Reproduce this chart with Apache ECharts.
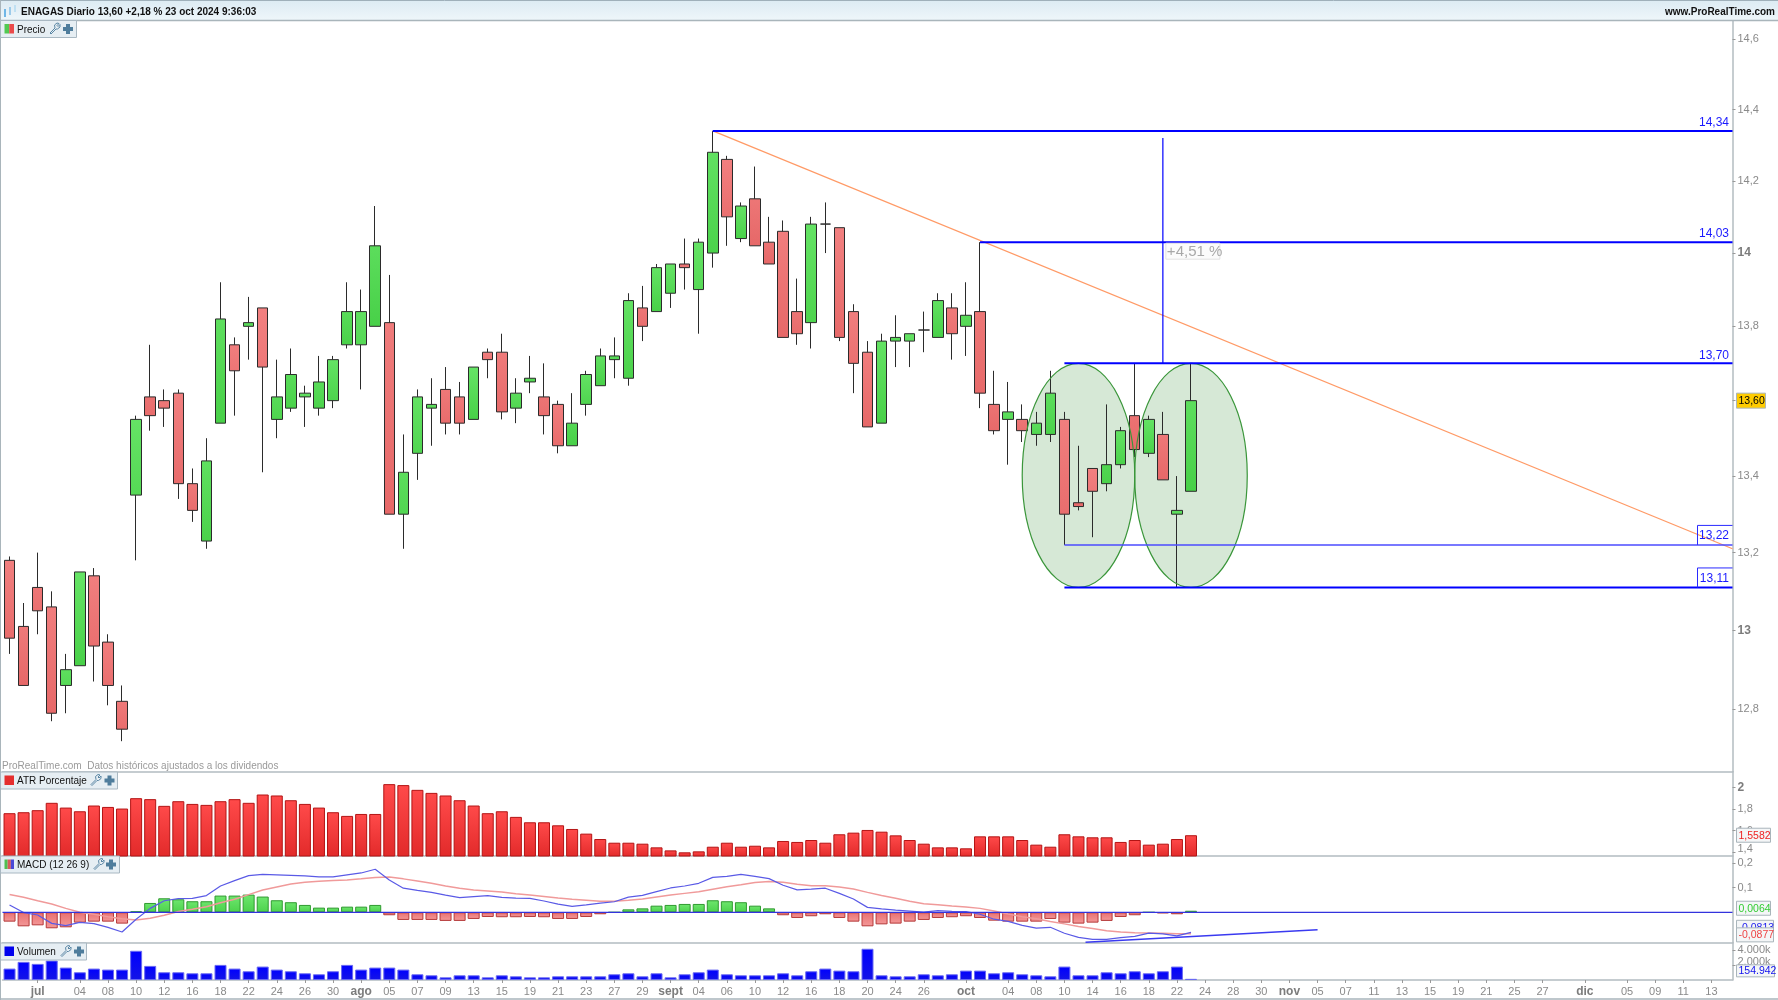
<!DOCTYPE html>
<html>
<head>
<meta charset="utf-8">
<title>ENAGAS Diario</title>
<script src="https://cdn.jsdelivr.net/npm/echarts@6/dist/echarts.min.js"></script>
<style>
  html, body { margin: 0; padding: 0; background: #fff; }
  #chart { width: 1778px; height: 1000px; }
</style>
</head>
<body>
<div id="chart"></div>
<script>
// velas diarias, una entrada por barra
const opens = [13.18,13.01,13.11,13.06,12.86,12.91,13.14,12.97,12.82,13.35,13.61,13.60,13.62,13.38,13.23,13.54,13.75,13.80,13.85,13.55,13.58,13.61,13.58,13.60,13.75,13.75,13.80,13.81,13.30,13.46,13.58,13.63,13.61,13.55,13.73,13.73,13.58,13.65,13.61,13.59,13.48,13.59,13.64,13.71,13.66,13.85,13.84,13.89,13.97,13.90,14.00,14.26,14.04,14.15,14.03,14.06,13.84,13.81,14.08,14.07,13.84,13.73,13.54,13.76,13.76,13.79,13.77,13.85,13.80,13.84,13.59,13.55,13.55,13.51,13.51,13.55,13.33,13.42,13.38,13.43,13.56,13.46,13.51,13.30,13.36];
const closes = [12.98,12.86,13.05,12.79,12.90,13.15,12.96,12.86,12.75,13.55,13.56,13.58,13.38,13.31,13.44,13.82,13.68,13.81,13.69,13.61,13.67,13.62,13.65,13.71,13.84,13.84,14.02,13.30,13.41,13.61,13.59,13.54,13.54,13.69,13.71,13.57,13.62,13.66,13.56,13.48,13.54,13.67,13.72,13.72,13.87,13.80,13.96,13.97,13.96,14.03,14.28,14.10,14.13,14.02,13.97,13.77,13.78,14.08,14.08,13.77,13.70,13.53,13.76,13.77,13.78,13.79,13.87,13.78,13.83,13.62,13.52,13.57,13.52,13.54,13.62,13.30,13.32,13.36,13.43,13.52,13.47,13.55,13.39,13.31,13.60];
const lows = [12.94,12.86,12.99,12.77,12.79,12.91,12.87,12.81,12.72,13.18,13.52,13.53,13.34,13.28,13.21,13.54,13.56,13.71,13.41,13.50,13.57,13.53,13.56,13.58,13.74,13.63,13.80,13.30,13.21,13.39,13.48,13.51,13.51,13.55,13.66,13.55,13.54,13.62,13.51,13.46,13.48,13.56,13.64,13.66,13.64,13.76,13.84,13.85,13.90,13.78,13.96,14.02,14.03,14.02,13.97,13.77,13.75,13.74,14.00,13.76,13.62,13.53,13.54,13.69,13.69,13.73,13.77,13.71,13.72,13.58,13.51,13.43,13.49,13.48,13.49,13.22,13.31,13.24,13.36,13.42,13.45,13.45,13.39,13.11,13.36];
const highs = [13.19,13.07,13.20,13.10,12.94,13.15,13.16,12.99,12.86,13.56,13.75,13.63,13.63,13.42,13.50,13.92,13.77,13.88,13.85,13.71,13.74,13.64,13.72,13.72,13.92,13.90,14.13,13.94,13.51,13.63,13.66,13.69,13.65,13.69,13.74,13.78,13.66,13.72,13.70,13.60,13.62,13.68,13.74,13.77,13.89,13.91,13.97,13.97,14.04,14.04,14.34,14.27,14.14,14.24,14.10,14.09,13.93,14.10,14.14,14.07,13.86,13.76,13.78,13.83,13.78,13.84,13.89,13.89,13.92,14.03,13.68,13.65,13.59,13.57,13.68,13.57,13.48,13.42,13.59,13.53,13.70,13.56,13.57,13.40,13.70];

const atrValues = [1.762,1.771,1.790,1.858,1.814,1.780,1.833,1.820,1.805,1.901,1.892,1.830,1.873,1.848,1.839,1.873,1.892,1.858,1.935,1.926,1.882,1.848,1.814,1.771,1.737,1.755,1.755,2.031,2.022,1.978,1.950,1.926,1.882,1.833,1.762,1.780,1.728,1.678,1.678,1.650,1.616,1.573,1.523,1.489,1.489,1.480,1.446,1.418,1.400,1.409,1.452,1.489,1.452,1.461,1.446,1.505,1.496,1.514,1.489,1.567,1.582,1.607,1.591,1.557,1.514,1.480,1.446,1.446,1.437,1.548,1.548,1.548,1.514,1.471,1.452,1.567,1.548,1.539,1.539,1.496,1.514,1.471,1.480,1.523,1.5582];

const macdHist = [-.038,-.057,-.053,-.065,-.061,-.042,-.038,-.038,-.046,.004,.038,.057,.053,.045,.045,.068,.068,.072,.064,.049,.041,.030,.019,.019,.023,.023,.030,-.012,-.031,-.031,-.031,-.035,-.035,-.027,-.019,-.020,-.020,-.019,-.020,-.027,-.027,-.019,-.008,0,.012,.016,.027,.030,.034,.034,.049,.045,.041,.027,.016,-.012,-.023,-.016,-.008,-.023,-.038,-.057,-.049,-.046,-.038,-.031,-.023,-.020,-.016,-.023,-.034,-.038,-.038,-.038,-.027,-.042,-.046,-.042,-.035,-.019,-.012,0,-.004,-.008,.0064];
const macdLine = [.030,-.001,-.011,-.045,-.054,-.041,-.046,-.061,-.080,-.028,.016,.047,.056,.057,.068,.107,.129,.149,.154,.152,.150,.148,.144,.144,.152,.160,.175,.131,.098,.089,.081,.070,.060,.064,.068,.061,.058,.057,.046,.033,.024,.030,.037,.043,.062,.069,.084,.099,.107,.118,.142,.146,.154,.146,.137,.110,.091,.094,.098,.077,.054,.020,.014,.009,.005,.001,.007,.004,.003,-.008,-.028,-.037,-.053,-.064,-.061,-.085,-.102,-.110,-.110,-.103,-.098,-.085,-.088,-.096,-.0813];
const macdSignal = [.072,.061,.047,.034,.016,0,-.008,-.018,-.026,-.031,-.024,-.012,.003,.012,.023,.039,.053,.072,.091,.103,.115,.122,.126,.129,.131,.136,.142,.144,.136,.127,.118,.107,.098,.091,.087,.083,.075,.070,.064,.058,.053,.049,.045,.045,.049,.054,.062,.070,.077,.084,.094,.104,.112,.121,.125,.122,.114,.108,.108,.103,.095,.081,.068,.057,.045,.035,.031,.026,.022,.016,.005,-.007,-.018,-.026,-.037,-.047,-.058,-.066,-.075,-.080,-.083,-.084,-.085,-.087,-.0877];

const volumes = [1530,2430,2160,2610,1665,1035,1530,1395,1395,3915,1890,1035,1035,900,900,2025,1530,1170,1800,1395,1170,900,765,1170,2025,1395,1665,1665,1395,765,630,360,630,630,360,630,495,360,360,495,495,495,495,765,900,495,900,360,765,1035,1395,765,630,630,630,900,630,1170,1530,1260,1170,4185,630,495,495,765,630,765,1260,1260,900,1035,765,630,495,1800,630,630,1035,900,1170,900,1170,1800,155];

// etiquetas del eje de tiempo por posicion de barra, '' = sin etiqueta
const dayLabels = new Array(123).fill('');
const tickEntries = [[2,'jul'],[5,'04'],[7,'08'],[9,'10'],[11,'12'],[13,'16'],[15,'18'],[17,'22'],[19,'24'],[21,'26'],[23,'30'],[25,'ago'],[27,'05'],[29,'07'],[31,'09'],[33,'13'],[35,'15'],[37,'19'],[39,'21'],[41,'23'],[43,'27'],[45,'29'],[47,'sept'],[49,'04'],[51,'06'],[53,'10'],[55,'12'],[57,'16'],[59,'18'],[61,'20'],[63,'24'],[65,'26'],[68,'oct'],[71,'04'],[73,'08'],[75,'10'],[77,'14'],[79,'16'],[81,'18'],[83,'22'],[85,'24'],[87,'28'],[89,'30'],[91,'nov'],[93,'05'],[95,'07'],[97,'11'],[99,'13'],[101,'15'],[103,'19'],[105,'21'],[107,'25'],[109,'27'],[112,'dic'],[115,'05'],[117,'09'],[119,'11'],[121,'13']];
tickEntries.forEach(([i, t]) => { dayLabels[i] = t; });
const monthNames = ['jul', 'ago', 'sept', 'oct', 'nov', 'dic'];

const priceTicks = [12.8, 13, 13.2, 13.4, 13.6, 13.8, 14, 14.2, 14.4, 14.6];
const atrTicks = [1.4, 1.6, 1.8, 2];
const macdTicks = [0.1, 0.2];
const volumeTicks = [2000, 4000];

// niveles dibujados a mano sobre el precio
const levelStarts = [50, 69, 75, 75, 75];
const levelPrices = [14.34, 14.03, 13.70, 13.22, 13.11];
const levelTexts = ['14,34', '14,03', '13,70', '13,22', '13,11'];
const trendFrom = [50, 14.34];
const trendTo = [122.5, 13.21];
const rangeLine = [82, 14.32, 13.70];
const rangeText = '+4,51 %';
const ellipseIdx = [[72, 80], [80, 88]];
const ellipsePrices = [13.70, 13.11];
const macdTrendFrom = [76.5, -0.122];
const macdTrendTo = [93, -0.0705];

const lastPrice = 13.60;
const lastAtr = 1.5582;
const lastHist = 0.0064;
const lastMacd = -0.0813;
const lastSignal = -0.0877;
const lastVolume = 154.942;

const GREY = '#8a8a8a';
const AXIS = '#b3bcc1';
const FONT = 'Liberation Sans, Arial, sans-serif';
const categories = dayLabels.map((_, i) => String(i));
const gridLeft = 2.5, gridWidth = 1730;

const comma = (v) => String(v).replace('.', ',');
const vGrad = (top, bottom) => ({ type: 'linear', x: 0, y: 0, x2: 0, y2: 1, colorStops: [{ offset: 0, color: top }, { offset: 1, color: bottom }] });

const chart = echarts.init(document.getElementById('chart'));

const paneGrid = (top, bottom) => ({ left: gridLeft, width: gridWidth, top, height: bottom - top, containLabel: false });
const catAxis = (gridIndex, withLabels) => ({
  type: 'category', gridIndex, data: categories, boundaryGap: true,
  axisLine: { onZero: false, lineStyle: { color: AXIS, width: 1.5 } },
  axisTick: withLabels
    ? { show: true, alignWithLabel: true, length: 3, interval: (i) => dayLabels[i] !== '', lineStyle: { color: '#999' } }
    : { show: false },
  axisLabel: withLabels
    ? {
        show: true, interval: (i) => dayLabels[i] !== '', margin: 6, fontFamily: FONT, fontSize: 11, color: GREY,
        formatter: (v) => {
          const t = dayLabels[+v];
          return monthNames.includes(t) ? '{m|' + t + '}' : t;
        },
        rich: { m: { fontWeight: 'bold', fontSize: 12, color: '#7c7c7c', fontFamily: FONT } }
      }
    : { show: false },
  splitLine: { show: false }
});
const idxAxis = (gridIndex) => ({ type: 'value', gridIndex, min: -0.5, max: 122.5, show: false, splitLine: { show: false } });
const valAxis = (gridIndex, extra, fmt) => Object.assign({
  gridIndex, position: 'right', splitLine: { show: false },
  axisLine: { show: true, onZero: false, lineStyle: { color: AXIS, width: 1.5 } },
  axisTick: { show: true, length: 3, lineStyle: { color: '#999' } },
  axisLabel: {
    show: true, margin: 5, fontFamily: FONT, fontSize: 11, color: GREY, formatter: fmt,
    rich: {
      b: { fontWeight: 'bold', fontSize: 12, color: '#7c7c7c', fontFamily: FONT },
      u: { fontSize: 11, color: GREY, fontFamily: FONT, padding: [0, 0, 7, 0] }
    }
  }
}, extra);

const withCustom = (axis, ticks) => {
  axis.axisLabel.customValues = ticks;
  axis.axisTick.customValues = ticks;
  return axis;
};

// caja con el ultimo valor a la derecha del eje
const valueTag = (xAxisIndex, yAxisIndex, value, text, color, opts) => ({
  type: 'custom', xAxisIndex, yAxisIndex, z: opts.z || 20, clip: false, silent: true,
  data: [[0, value]],
  renderItem: (params, api) => {
    const y = api.coord([0, value])[1] + (opts.dy || 0);
    const h = opts.h || 14;
    return {
      type: 'group',
      children: [
        { type: 'rect', shape: { x: 1736.5, y: y - h / 2, width: opts.w, height: h }, style: { fill: opts.bg || '#f4f6f7', stroke: '#a9b5bb', lineWidth: 1 } },
        { type: 'text', style: { x: 1738.5, y: y + 0.5, text, fill: color, font: '10.5px ' + FONT, textVerticalAlign: 'middle' } }
      ]
    };
  }
});

const levelWidths = [2, 2, 2, 1.5, 2];
const levelsSeries = {
  type: 'custom', xAxisIndex: 1, yAxisIndex: 0, z: 6, clip: false, silent: true,
  encode: { x: 0, y: 1 },
  data: levelPrices.map((p, i) => [levelStarts[i], p, i]),
  renderItem: (params, api) => {
    const i = api.value(2);
    const a = api.coord([api.value(0), api.value(1)]);
    const b = api.coord([122.5, api.value(1)]);
    const faded = i === 3;
    const children = [{
      type: 'line', shape: { x1: a[0], y1: a[1], x2: b[0], y2: b[1] },
      style: { stroke: faded ? '#4b4bff' : '#0000ff', lineWidth: levelWidths[i] }
    }];
    if (i >= 3) {
      children.push({
        type: 'polyline', shape: { points: [[b[0] - 35, b[1]], [b[0] - 35, b[1] - 19.5], [b[0], b[1] - 19.5]] },
        style: { stroke: '#2a2aff', lineWidth: 1, fill: 'none' }
      });
    }
    children.push({
      type: 'text',
      style: {
        x: b[0] - 3.5, y: b[1] - (i >= 3 ? 9 : 8), text: levelTexts[i], fill: '#1a1aff',
        font: '12px ' + FONT, textAlign: 'right', textVerticalAlign: 'middle'
      }
    });
    return { type: 'group', children };
  }
};

const trendSeries = {
  type: 'line', xAxisIndex: 1, yAxisIndex: 0, z: 5, silent: true, symbol: 'none',
  data: [trendFrom, trendTo],
  lineStyle: { color: '#ff9a66', width: 1.2 }
};

const rangeSeries = {
  type: 'custom', xAxisIndex: 1, yAxisIndex: 0, z: 6, clip: false, silent: true,
  data: [rangeLine],
  encode: { x: 0, y: [1, 2] },
  renderItem: (params, api) => {
    const a = api.coord([api.value(0), api.value(1)]);
    const b = api.coord([api.value(0), api.value(2)]);
    const t = api.coord([api.value(0), levelPrices[1]]);
    return {
      type: 'group',
      children: [
        { type: 'line', shape: { x1: a[0], y1: a[1], x2: b[0], y2: b[1] }, style: { stroke: '#0000ff', lineWidth: 1.2 } },
        { type: 'rect', shape: { x: t[0] + 3, y: t[1] + 1, width: 54, height: 16 }, style: { fill: 'rgba(250,250,250,0.8)', stroke: '#e2e2e2', lineWidth: 1 } },
        { type: 'text', style: { x: t[0] + 4, y: t[1] + 9.5, text: rangeText, fill: '#a8a8a8', font: '15px ' + FONT, textVerticalAlign: 'middle' } }
      ]
    };
  }
};

// relleno debajo de las velas, trazo por encima
const ellipseSeries = (z, style) => ({
  type: 'custom', xAxisIndex: 1, yAxisIndex: 0, z, clip: false, silent: true,
  data: ellipseIdx.map((r) => [r[0], r[1], ellipsePrices[0], ellipsePrices[1]]),
  encode: { x: [0, 1], y: [2, 3] },
  renderItem: (params, api) => {
    const a = api.coord([api.value(0), api.value(2)]);
    const b = api.coord([api.value(1), api.value(3)]);
    return {
      type: 'ellipse',
      shape: { cx: (a[0] + b[0]) / 2, cy: (a[1] + b[1]) / 2, rx: (b[0] - a[0]) / 2, ry: (b[1] - a[1]) / 2 },
      style
    };
  }
});

const histData = macdHist.map((v) => ({
  value: v,
  itemStyle: v >= 0
    ? { color: vGrad('#6ee66e', '#4cd24c'), borderColor: '#2f9a2f', borderWidth: 1 }
    : { color: vGrad('#e97070', '#f39898'), borderColor: '#b53a3a', borderWidth: 1 }
}));

const wrenchPoints = (x, y) => [[x + 1, y + 10], [x + 6, y + 5], [x + 5.5, y + 2], [x + 8, y], [x + 10, y + 0.5], [x + 8, y + 2.5], [x + 9, y + 3.5], [x + 11, y + 1.5], [x + 11, y + 4], [x + 8.5, y + 6], [x + 7, y + 6], [x + 2, y + 11]];
const plusPoints = (x, y) => [[x + 3, y], [x + 7, y], [x + 7, y + 3], [x + 10, y + 3], [x + 10, y + 7], [x + 7, y + 7], [x + 7, y + 10], [x + 3, y + 10], [x + 3, y + 7], [x, y + 7], [x, y + 3], [x + 3, y + 3]];

// etiqueta de panel con muestra de color, llave y cruz
const panelTag = (top, w, label, swatches, wrenchX, plusX) => {
  const sw = 9.5 / swatches.length;
  return [
    { type: 'rect', z: 30, shape: { x: 0.5, y: top + 0.5, width: w, height: 17 }, style: { fill: '#e6eef3', stroke: '#a9b8c2', lineWidth: 1 } },
    ...swatches.map((c, i) => ({ type: 'rect', z: 31, shape: { x: 4.5 + i * sw, y: top + 4, width: sw, height: 9.5 }, style: { fill: c } })),
    { type: 'text', z: 31, x: 17, y: top + 9.5, scaleY: 1.15, style: { text: label, fill: '#111', font: '10px ' + FONT, textVerticalAlign: 'middle' } },
    { type: 'polygon', z: 31, shape: { points: wrenchPoints(wrenchX, top + 3) }, style: { fill: 'none', stroke: '#5b87a5', lineWidth: 1 } },
    { type: 'polygon', z: 31, shape: { points: plusPoints(plusX, top + 4) }, style: { fill: '#4f7d9c' } }
  ];
};

const chrome = [
  { type: 'rect', z: 25, shape: { x: 0, y: 0, width: 1778, height: 20 }, style: { fill: vGrad('#dcebf3', '#eef6fa') } },
  { type: 'line', z: 26, shape: { x1: 0, y1: 0.5, x2: 1778, y2: 0.5 }, style: { stroke: '#9fb0ba', lineWidth: 1 } },
  { type: 'line', z: 26, shape: { x1: 0, y1: 20.5, x2: 1778, y2: 20.5 }, style: { stroke: '#a9b5bb', lineWidth: 1.5 } },
  { type: 'line', z: 26, shape: { x1: 0.5, y1: 0, x2: 0.5, y2: 1000 }, style: { stroke: '#a9b5bb', lineWidth: 1 } },
  { type: 'line', z: 26, shape: { x1: 0, y1: 999, x2: 1778, y2: 999 }, style: { stroke: '#a9b5bb', lineWidth: 1.5 } },
  { type: 'rect', z: 27, shape: { x: 4, y: 9, width: 2, height: 8 }, style: { fill: '#6fb6e6' } },
  { type: 'rect', z: 27, shape: { x: 9, y: 7, width: 2, height: 8 }, style: { fill: '#9ccbea' } },
  { type: 'rect', z: 27, shape: { x: 14, y: 5, width: 2, height: 7 }, style: { fill: '#bfe0f2' } },
  { type: 'text', z: 27, x: 21, y: 12, scaleY: 1.15, style: { text: 'ENAGAS Diario 13,60 +2,18 % 23 oct 2024 9:36:03', fill: '#111', font: 'bold 10px ' + FONT, textVerticalAlign: 'middle' } },
  { type: 'text', z: 27, x: 1775, y: 12, scaleY: 1.15, style: { text: 'www.ProRealTime.com', fill: '#111', font: 'bold 10px ' + FONT, textAlign: 'right', textVerticalAlign: 'middle' } },
  { type: 'text', z: 27, x: 2, y: 766, scaleY: 1.15, style: { text: 'ProRealTime.com  Datos históricos ajustados a los dividendos', fill: '#9a9a9a', font: '10px ' + FONT, textVerticalAlign: 'middle' } },
  ...panelTag(20, 76, 'Precio', ['#52c952', '#ea4a4a'], 49, 63),
  ...panelTag(771.5, 117, 'ATR Porcentaje', ['#e52e2e'], 90, 104.5),
  ...panelTag(855.5, 119, 'MACD (12 26 9)', ['#4fbf4f', '#d85a5a', '#4a4ad8'], 93, 106),
  ...panelTag(942.5, 86, 'Volumen', ['#0000ee'], 60, 74)
];

chart.setOption({
  animation: false,
  backgroundColor: '#fff',
  textStyle: { fontFamily: FONT },
  graphic: { elements: chrome },
  grid: [paneGrid(21, 771.7), paneGrid(771.7, 856), paneGrid(856, 942.7), paneGrid(942.7, 980)],
  xAxis: [catAxis(0, false), idxAxis(0), catAxis(1, false), catAxis(2, false), idxAxis(2), catAxis(3, true)],
  yAxis: [
    withCustom(valAxis(0, { type: 'log', logBase: 10, min: 12.644, max: 14.653 }, (v) => {
      const r = Math.round(v * 10) / 10;
      return Number.isInteger(r) ? '{b|' + r + '}' : comma(r);
    }), priceTicks),
    withCustom(valAxis(1, { type: 'value', min: 1.366, max: 2.146 }, (v) => {
      const r = Math.round(v * 10) / 10;
      if (r === 1.4) return '{u|1,4}';
      return Number.isInteger(r) ? '{b|' + r + '}' : comma(r);
    }), atrTicks),
    withCustom(valAxis(2, { type: 'value', min: -0.1236, max: 0.229 }, (v) => comma(v)), macdTicks),
    withCustom(valAxis(3, { type: 'value', min: 0, max: 5000 }, (v) => {
      const t = (v / 1000).toFixed(3) + 'k';
      return v === 2000 ? '{u|' + t + '}' : t;
    }), volumeTicks)
  ],
  series: [
    ellipseSeries(2, { fill: 'rgba(50,140,50,0.2)', stroke: 'none' }),
    {
      type: 'candlestick', xAxisIndex: 0, yAxisIndex: 0, z: 3, barWidth: 11, silent: true,
      data: opens.map((o, i) => [o, closes[i], lows[i], highs[i]]),
      itemStyle: {
        color: vGrad('#66e466', '#48d048'), color0: vGrad('#f28080', '#e66868'),
        borderColor: '#2b2b2b', borderColor0: '#2b2b2b', borderColorDoji: '#2b2b2b', borderWidth: 1
      }
    },
    ellipseSeries(4, { fill: 'none', stroke: '#3a963a', lineWidth: 1.2 }),
    trendSeries,
    levelsSeries,
    rangeSeries,
    {
      type: 'bar', xAxisIndex: 2, yAxisIndex: 1, barWidth: 12, silent: true, data: atrValues,
      itemStyle: { color: vGrad('#ff4a4a', '#e22a2a'), borderColor: '#b31414', borderWidth: 1 }
    },
    { type: 'bar', xAxisIndex: 3, yAxisIndex: 2, barWidth: 12, silent: true, data: histData },
    {
      type: 'line', xAxisIndex: 3, yAxisIndex: 2, z: 4, symbol: 'none', silent: true, data: macdSignal,
      lineStyle: { color: '#f09a9a', width: 1.5 }
    },
    {
      type: 'line', xAxisIndex: 3, yAxisIndex: 2, z: 5, symbol: 'none', silent: true, data: macdLine,
      lineStyle: { color: '#5a5ae6', width: 1.2 }
    },
    {
      type: 'line', xAxisIndex: 4, yAxisIndex: 2, z: 6, symbol: 'none', silent: true,
      data: [[-0.5, 0], [122.5, 0]], lineStyle: { color: '#3333dd', width: 1.2 }
    },
    {
      type: 'line', xAxisIndex: 4, yAxisIndex: 2, z: 6, symbol: 'none', silent: true,
      data: [macdTrendFrom, macdTrendTo], lineStyle: { color: '#3a3af0', width: 1.5 }
    },
    {
      type: 'bar', xAxisIndex: 5, yAxisIndex: 3, barWidth: 12, silent: true,
      data: volumes, itemStyle: { color: vGrad('#0000ff', '#1414e6'), borderColor: '#6a6af2', borderWidth: 1 }
    },
    valueTag(0, 0, lastPrice, '13,60', '#000', { w: 29, h: 15, bg: '#ffcc00' }),
    valueTag(2, 1, lastAtr, '1,5582', '#ee2222', { w: 34 }),
    valueTag(3, 2, lastHist, '0,0064', '#33cc33', { w: 34, dy: -2.5 }),
    valueTag(3, 2, lastMacd, '-0,0813', '#2222ee', { w: 37, dy: -5, z: 19 }),
    valueTag(3, 2, lastSignal, '-0,0877', '#ee4444', { w: 37, dy: 1, z: 20 }),
    valueTag(5, 3, lastVolume, '154.942', '#1111ee', { w: 38, h: 12, dy: -8 })
  ]
});
</script>
</body>
</html>
